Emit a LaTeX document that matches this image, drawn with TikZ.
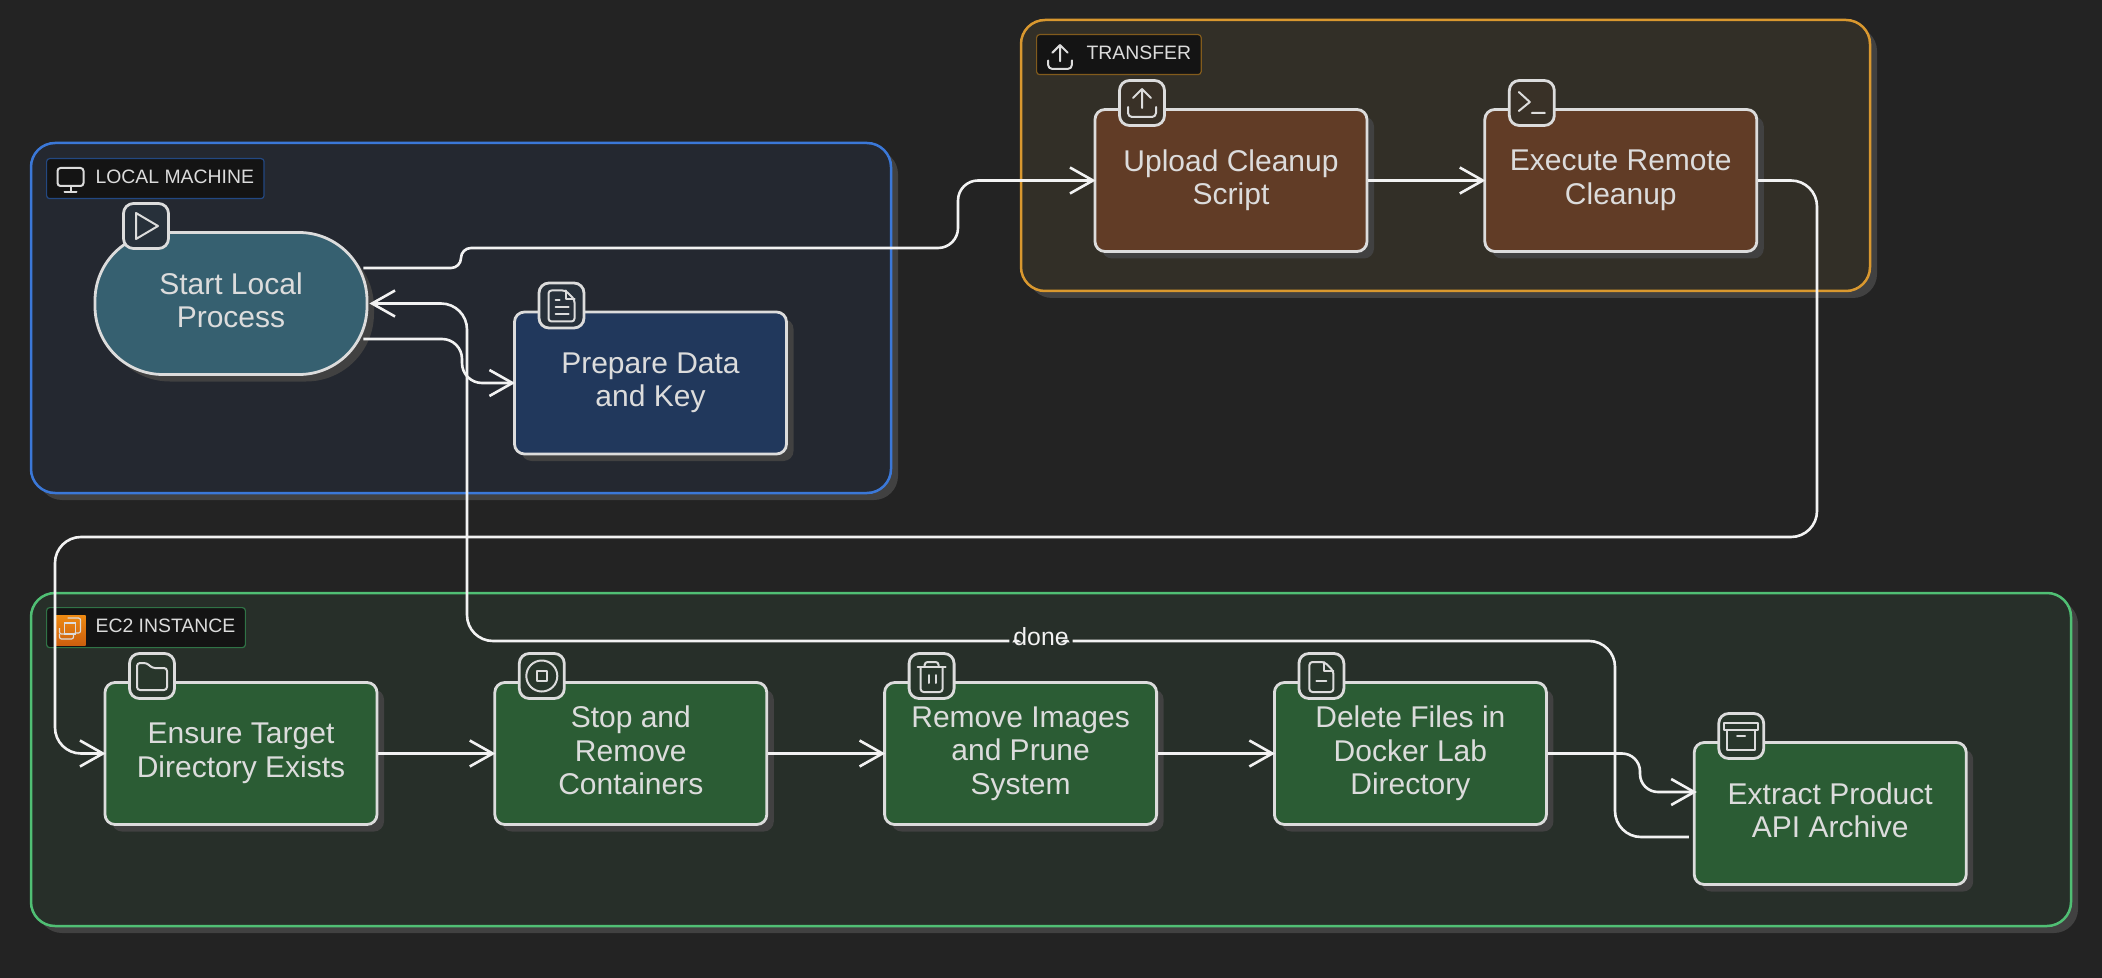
\documentclass[tikz,border=0pt]{standalone}
\usepackage{fontspec}
\setmainfont{Liberation Sans}
\usetikzlibrary{positioning,shadows,arrows.meta}
\definecolor{pagedark}{HTML}{232323}
\definecolor{shadowgray}{HTML}{414141}
\definecolor{inkgray}{HTML}{DCDCDC}
\definecolor{wirewhite}{HTML}{F2F2F2}
\definecolor{lblblack}{HTML}{141414}
\definecolor{localline}{HTML}{3B78D8}
\definecolor{localfill}{HTML}{242830}
\definecolor{xferline}{HTML}{D9982F}
\definecolor{xferfill}{HTML}{322F27}
\definecolor{ec2line}{HTML}{50BF74}
\definecolor{ec2fill}{HTML}{272F29}
\definecolor{startfill}{HTML}{366070}
\definecolor{prepfill}{HTML}{21385C}
\definecolor{brownfill}{HTML}{613C26}
\definecolor{greenfill}{HTML}{2B5C34}
\definecolor{logotop}{HTML}{EE8A12}
\definecolor{logolow}{HTML}{CC5F0E}

\begin{document}
\begin{tikzpicture}[
  x=0.5pt,y=-0.5pt,
  clust/.style={rounded corners=12pt,line width=1.25pt,inner sep=0pt,
    drop shadow={shadow xshift=3.5pt,shadow yshift=-3.5pt,fill=shadowgray,opacity=1}},
  lbl/.style={draw=#1,fill=lblblack,rounded corners=1.5pt,line width=.6pt,anchor=north west,
    text=inkgray,inner xsep=5pt,inner ysep=0pt,minimum height=20pt,text depth=2pt,
    font=\fontsize{9.7}{11}\selectfont},
  blk/.style={draw=inkgray,rounded corners=5pt,line width=1.4pt,align=center,text=inkgray,
    minimum width=136pt,minimum height=71pt,inner sep=0pt,font=\fontsize{15}{16.75}\selectfont,
    execute at end node={\rule[-3.2pt]{0pt}{0pt}},
    drop shadow={shadow xshift=3.5pt,shadow yshift=-3.5pt,fill=shadowgray,opacity=1}},
  iconbox/.style={draw=inkgray,fill=#1,rounded corners=5pt,line width=1.4pt,inner sep=0pt,
    minimum size=22.5pt,xshift=-44.5pt,yshift=38.75pt},
  ico/.style={draw=inkgray,line width=1pt,line join=round,line cap=round},
  fl/.style={draw=wirewhite,line width=1.3pt,-{Straight Barb[length=11.5pt,width=13pt]},shorten >=-1pt},
  doneword/.style={fill=ec2fill,text=wirewhite,inner xsep=2pt,inner ysep=0pt,yshift=2pt,
    font=\fontsize{12.4}{14}\selectfont},
  pics/playpic/.style={code={\draw[ico] (-10,-13)--(12,0)--(-10,13)--cycle;}},
  pics/filetextpic/.style={code={
    \draw[ico,rounded corners=1.5pt] (-13,-15)--(4,-15)--(13,-6)--(13,16)--(-13,16)--cycle;
    \draw[ico] (4,-15)--(4,-6)--(13,-6) (-6,-5)--(-2,-5) (-6,2)--(7,2) (-6,9)--(7,9);}},
  pics/uploadpic/.style={code={
    \draw[ico] (0,-14)--(0,5) (-9,-5)--(0,-14)--(9,-5);
    \draw[ico,rounded corners=2pt] (-14,4)--(-14,14)--(14,14)--(14,4);}},
  pics/termpic/.style={code={\draw[ico] (-13,-11)--(-2,-1)--(-13,8) (0,10)--(13,10);}},
  pics/folderpic/.style={code={
    \draw[ico,rounded corners=1.5pt] (-15,-13)--(-5,-13)--(0,-8)--(15,-8)--(15,14)--(-15,14)--cycle;}},
  pics/stoppic/.style={code={
    \draw[ico] (0,0) circle[radius=15.5];
    \draw[ico] (-5,-5) rectangle (5,5);}},
  pics/trashpic/.style={code={
    \draw[ico] (-14,-9)--(14,-9) (-3,-1)--(-3,7) (4,-1)--(4,7);
    \draw[ico,rounded corners=1.5pt] (-7,-9)--(-7,-14)--(7,-14)--(7,-9);
    \draw[ico,rounded corners=1.5pt] (-11,-9)--(-11,16)--(11,16)--(11,-9);}},
  pics/fileminuspic/.style={code={
    \draw[ico,rounded corners=1.5pt] (-12,-14)--(3,-14)--(12,-5)--(12,16)--(-12,16)--cycle;
    \draw[ico] (3,-14)--(3,-5)--(12,-5) (-5,5)--(5,5);}},
  pics/archivepic/.style={code={
    \draw[ico] (-17,-13) rectangle (17,-6) (-14,-6) rectangle (14,14) (-4,0)--(4,0);}},
  pics/monitorpic/.style={code={
    \draw[ico,rounded corners=1.5pt] (-13,-12) rectangle (13,6);
    \draw[ico] (0,6)--(0,12) (-6,12)--(6,12);}},
  pics/chipspic/.style={code={
    \draw[draw=inkgray,line width=.6pt,rounded corners=1pt] (-3,-12)--(10,-12)--(10,3)--(4,3)
      (-5,4)--(-11,4)--(-11,-2) (-11,4)--(-11,9)--(3,9)--(3,5);
    \draw[draw=inkgray,line width=.8pt] (-6,-7) rectangle (5,4);}},
]
\fill[pagedark] (0,0) rectangle (2102,978);
\useasboundingbox (0,0) rectangle (2102,978);

% groups
\node[clust,draw=localline,fill=localfill,minimum width=430pt,minimum height=175pt] (localbox) at (461,318) {};
\node[clust,draw=xferline,fill=xferfill,minimum width=424.5pt,minimum height=135.5pt] (xferbox) at (1445.5,155.5) {};
\node[clust,draw=ec2line,fill=ec2fill,minimum width=1020pt,minimum height=166.5pt] (ec2box) at (1051,759.5) {};
\node[lbl=localline!60!black] (locallbl) at (46,158) {\hspace*{19.5pt}LOCAL MACHINE};
\node[lbl=xferline!60!black] (xferlbl) at (1036,34) {\hspace*{20pt}TRANSFER};
\node[lbl=ec2line!60!black] (ec2lbl) at (46,607) {\hspace*{19.5pt}EC2 INSTANCE};
\pic at (70.5,180) {monitorpic};
\pic[scale=.85] at (1060,57) {uploadpic};
\node[inner sep=0pt,minimum size=15pt,top color=logotop,bottom color=logolow] (ec2logo) at (70.5,630) {};
\pic at (ec2logo) {chipspic};

% steps
\node[blk,fill=startfill,rounded corners=34pt] (start) at (231,303.5) {Start Local\\Process};
\node[blk,fill=prepfill] (prepare) at (650.5,383) {Prepare Data\\and Key};
\node[blk,fill=brownfill] (upload) at (1231,180.5) {Upload Cleanup\\Script};
\node[blk,fill=brownfill,right=57.5pt of upload] (execute) {Execute Remote\\Cleanup};
\node[blk,fill=greenfill] (ensure) at (241,753.5) {Ensure Target\\Directory Exists};
\node[blk,fill=greenfill,right=57.5pt of ensure] (stopc) {Stop and\\Remove\\Containers};
\node[blk,fill=greenfill,right=57.5pt of stopc] (removeimg) {Remove Images\\and Prune\\System};
\node[blk,fill=greenfill,right=57.5pt of removeimg] (deletef) {Delete Files in\\Docker Lab\\Directory};
\node[blk,fill=greenfill,right=72.5pt of deletef,yshift=-30pt] (extract) {Extract Product\\API Archive};

% badges
\node[iconbox=localfill!85!startfill,xshift=2pt] (starticon) at (start) {};
\pic at (starticon) {playpic};
\node[iconbox=localfill!85!startfill] (prepicon) at (prepare) {};
\pic at (prepicon) {filetextpic};
\node[iconbox=xferfill!85!brownfill] (uploadicon) at (upload) {};
\pic at (uploadicon) {uploadpic};
\node[iconbox=xferfill!85!brownfill] (execicon) at (execute) {};
\pic at (execicon) {termpic};
\node[iconbox=ec2fill!85!greenfill] (ensureicon) at (ensure) {};
\pic at (ensureicon) {folderpic};
\node[iconbox=ec2fill!85!greenfill] (stopicon) at (stopc) {};
\pic at (stopicon) {stoppic};
\node[iconbox=ec2fill!85!greenfill] (removeicon) at (removeimg) {};
\pic at (removeicon) {trashpic};
\node[iconbox=ec2fill!85!greenfill] (deleteicon) at (deletef) {};
\pic at (deleteicon) {fileminuspic};
\node[iconbox=ec2fill!85!greenfill] (extracticon) at (extract) {};
\pic at (extracticon) {archivepic};

% main flow
\draw[fl,rounded corners=5pt] ([shift={(-2.5pt,17.75pt)}]start.east) -- (461,268) -- (461,248)
  [rounded corners=10pt] -- (958,248) -- (958,180.5) -- (upload.west);
\draw[fl,rounded corners=10pt] ([shift={(-2.5pt,-17.75pt)}]start.east) -- (462,339) -- (462,383) -- (prepare.west);
\draw[fl] (upload) -- (execute);
\draw[fl,rounded corners=13pt] (execute.east) -- (1817,180.5) -- (1817,537) -- (55,537) -- (55,753.5) -- (ensure.west);
\draw[fl] (ensure) -- (stopc);
\draw[fl] (stopc) -- (removeimg);
\draw[fl] (removeimg) -- (deletef);
\draw[fl,rounded corners=9pt,shorten >=-2pt] (deletef.east) -- (1640,753.5) -- (1640,792) -- ([yshift=10.75pt]extract.west);
% back to the start
\draw[fl,rounded corners=13pt,shorten <=2pt,shorten >=.5pt] ([yshift=-11.75pt]extract.west) -- (1615,837) -- (1615,641)
  -- node[doneword] (donelbl) {done} (467,641) -- (467,303.5) -- (start.east);
\end{tikzpicture}
\end{document}
